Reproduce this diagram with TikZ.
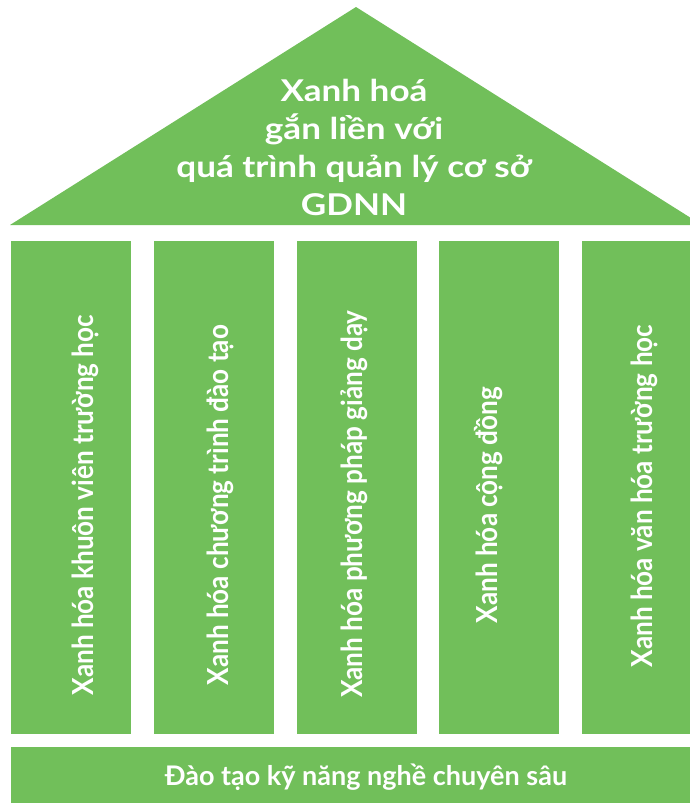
\documentclass[tikz,border=0pt]{standalone}
\usepackage{fontspec}
\setmainfont{Lato}
\newfontfamily\pillarfont{Lato}[FakeStretch=0.9]
\newfontfamily\rooffont{Lato}[FakeStretch=1.17]
\definecolor{leaf}{HTML}{71BF5A}

\begin{document}
\begin{tikzpicture}[x=1pt,y=-1pt,
    block/.style={fill=leaf,draw=none,inner sep=0pt},
    pillar/.style={block,anchor=north west,minimum width=120pt,minimum height=493pt},
    rooftext/.style={text=white,align=center,anchor=base,font=\rooffont\bfseries\fontsize{30}{37.7}\selectfont},
    pillartext/.style={text=white,rotate=90,anchor=base,font=\pillarfont\bfseries\fontsize{29}{34}\selectfont},
    basetext/.style={text=white,anchor=base,font=\bfseries\fontsize{27}{32}\selectfont}]
  \useasboundingbox (0,0) rectangle (690,803);
  \clip (0,0) rectangle (690,803);

  % roof
  \coordinate (eaveL) at (10,225);
  \coordinate (apex) at (356,7);
  \coordinate (eaveR) at (702,225);
  \fill[leaf] (eaveL) -- (apex) -- (eaveR) -- cycle;
  \node[rooftext] (roof) at (354,215) {Xanh hoá\\gắn liền với\\quá trình quản lý cơ sở\\GDNN};

  % pillars
  \foreach \i/\x/\tx/\ty/\txt in {1/11/93/505/{Xanh hóa khuôn viên trường học},
      2/154/228/505/{Xanh hóa chương trình đào tạo},
      3/296.5/362/504/{Xanh hóa phương pháp giảng dạy},
      4/439/497/505/{Xanh hóa cộng đồng},
      5/582/652/496/{Xanh hóa văn hóa trường học}} {
    \node[pillar] (p\i) at (\x,241) {};
    \node[pillartext] (t\i) at (\tx,\ty) {\txt};
  }

  % base
  \node[block,anchor=north west,minimum width=691pt,minimum height=60pt] (base) at (11,747) {};
  \node[basetext] (skill) at (366,785) {Đào tạo kỹ năng nghề chuyên sâu};
\end{tikzpicture}
\end{document}
